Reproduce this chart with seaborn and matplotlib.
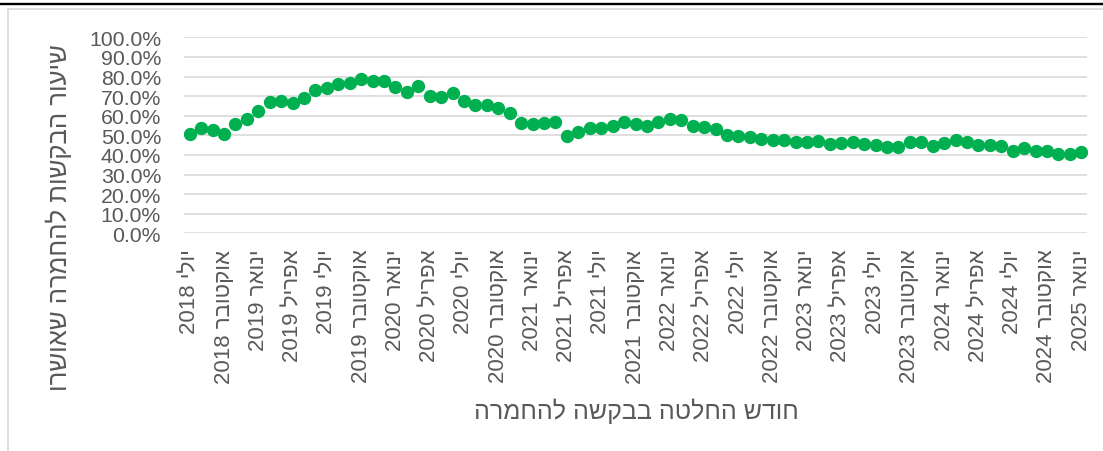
import re
import matplotlib
matplotlib.use("Agg")
import matplotlib.pyplot as plt
from matplotlib.lines import Line2D
from matplotlib.ticker import PercentFormatter, FixedLocator
import seaborn as sns
import pandas as pd
import numpy as np

# ---- data (approval rate, %, monthly from July 2018 to January 2025) ----
approval_rate = [
    50.7, 53.7, 52.8, 50.8, 55.8, 58.4, 62.3, 66.9, 67.5, 66.5,
    69.1, 73.3, 74.0, 76.2, 76.7, 78.5, 77.6, 77.9, 74.8, 72.0,
    75.0, 70.2, 69.4, 71.4, 67.3, 65.5, 65.3, 63.9, 61.2, 56.1,
    56.0, 56.3, 56.6, 49.6, 51.9, 53.6, 53.6, 54.9, 56.6, 55.6,
    54.9, 56.6, 58.3, 57.6, 54.9, 54.1, 53.0, 50.1, 49.8, 49.0,
    48.2, 47.7, 47.4, 46.5, 46.5, 47.2, 45.7, 46.2, 46.5, 45.7,
    44.9, 44.1, 44.1, 46.5, 46.5, 44.4, 46.1, 47.8, 46.5, 45.2,
    44.9, 44.4, 42.2, 43.4, 42.2, 42.2, 40.5, 40.5, 41.4,
]
tick_labels = [
    "יולי 2018", "אוקטובר 2018", "ינואר 2019", "אפריל 2019", "יולי 2019",
    "אוקטובר 2019", "ינואר 2020", "אפריל 2020", "יולי 2020", "אוקטובר 2020",
    "ינואר 2021", "אפריל 2021", "יולי 2021", "אוקטובר 2021", "ינואר 2022",
    "אפריל 2022", "יולי 2022", "אוקטובר 2022", "ינואר 2023", "אפריל 2023",
    "יולי 2023", "אוקטובר 2023", "ינואר 2024", "אפריל 2024", "יולי 2024",
    "אוקטובר 2024", "ינואר 2025",
]
tick_step = 3
x_title = "חודש החלטה בבקשה להחמרה"
y_title = "שיעור הבקשות להחמרה שאושרו"


def visual(s):
    """Convert logical RTL text into visual (LTR display) order."""
    tokens = re.findall(r"\d+|\D", s)
    return "".join(reversed(tokens))


sns.set_theme(style="white")
plt.rcParams["font.family"] = ["Liberation Sans", "DejaVu Sans"]

W, H = 1103, 452
fig = plt.figure(figsize=(W / 100, H / 100), dpi=100)
ax = fig.add_axes([184 / W, 1 - 234.3 / H, (1087 - 184) / W, (234.3 - 38.3) / H])

df = pd.DataFrame({
    "month": np.arange(len(approval_rate)),
    "rate": np.array(approval_rate) / 100.0,
})
sns.scatterplot(data=df, x="month", y="rate", color="#00B050", s=92,
                linewidth=0, ax=ax, zorder=3, legend=False)

ax.set_xlim(-0.5, len(approval_rate) - 0.5)
ax.set_ylim(0, 1.0)
ax.yaxis.set_major_locator(FixedLocator(np.arange(0, 1.0001, 0.1)))
ax.yaxis.set_major_formatter(PercentFormatter(xmax=1, decimals=1))
ax.set_xticks(np.arange(0, len(approval_rate), tick_step))
ax.set_xticklabels([visual(t) for t in tick_labels], rotation=90,
                   va="top", ha="center")

ax.yaxis.grid(True, color="#D9D9D9", linewidth=1.2)
ax.xaxis.grid(False)
ax.set_axisbelow(True)
for sp in ax.spines.values():
    sp.set_visible(False)
ax.tick_params(axis="both", length=0, labelcolor="#595959")
ax.tick_params(axis="y", pad=16.5, labelsize=15.3)
ax.tick_params(axis="x", pad=11, labelsize=16)
ax.set_xlabel("")
ax.set_ylabel("")

fig.text(636 / W, 1 - 411 / H, visual(x_title), ha="center", va="center",
         fontsize=18, color="#595959")
fig.text(59 / W, 1 - 218 / H, visual(y_title), ha="center", va="center",
         rotation=90, fontsize=18.5, color="#595959")

# chart frame and header rule
fig.add_artist(Line2D([8 / W, 1], [1 - 10 / H, 1 - 10 / H],
                      transform=fig.transFigure, color="#D9D9D9", lw=1.2))
fig.add_artist(Line2D([8 / W, 8 / W], [0, 1 - 10 / H],
                      transform=fig.transFigure, color="#D9D9D9", lw=1.2))
fig.add_artist(Line2D([0, 1], [1 - 5.2 / H, 1 - 5.2 / H],
                      transform=fig.transFigure, color="black", lw=1.7))

fig.savefig("out.png", dpi=100)
